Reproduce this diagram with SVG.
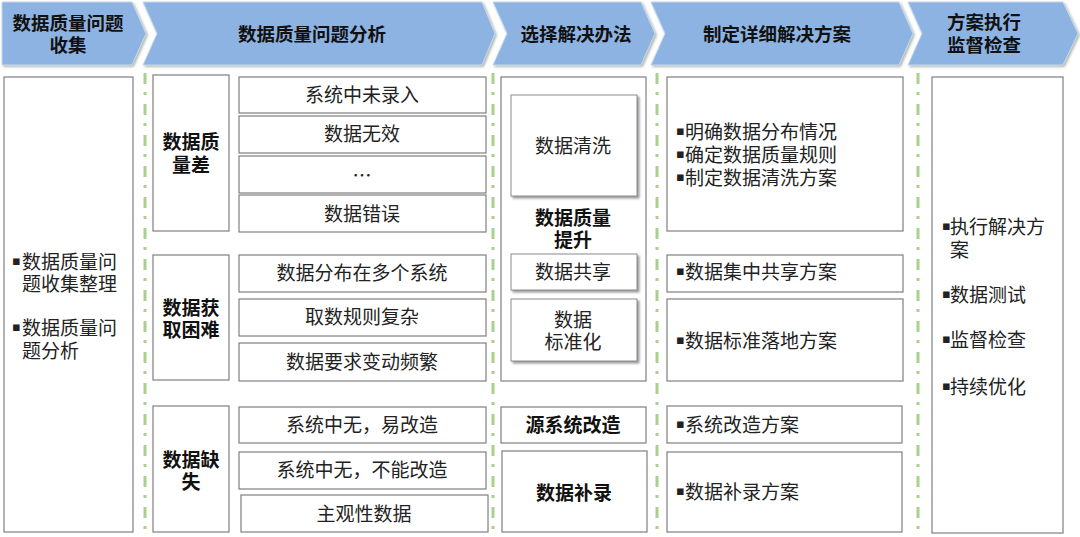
<svg xmlns="http://www.w3.org/2000/svg" width="1080" height="537" viewBox="0 0 1080 537">
<defs>
<filter id="hs" x="-5%" y="-10%" width="110%" height="125%">
<feDropShadow dx="1.5" dy="1.5" stdDeviation="1" flood-color="#7f8a7a" flood-opacity="0.6"/>
</filter>
<filter id="bs" x="-10%" y="-10%" width="125%" height="130%">
<feDropShadow dx="2" dy="2" stdDeviation="1.3" flood-color="#777" flood-opacity="0.75"/>
</filter>
<style>
.chev{fill:#8db3e2;stroke:#c5d8ef;stroke-width:1;filter:url(#hs)}
.box{fill:#fff;stroke:#7f7f7f;stroke-width:1.2}
.sbox{fill:#fff;stroke:#8c8c8c;stroke-width:1;filter:url(#bs)}
.div{stroke:#a9d18e;stroke-width:3;stroke-dasharray:11 8 3 9;fill:none}
text{font-family:"Noto Sans CJK SC","Microsoft YaHei",sans-serif;font-size:19px;fill:#222;dominant-baseline:central}
.h{font-weight:700;fill:#111;font-size:18.5px;text-anchor:middle}
.b{font-weight:700;fill:#111;text-anchor:middle}
.c{text-anchor:middle}
.bul{font-family:"DejaVu Sans",sans-serif;font-size:13px}
</style>
</defs>
<rect width="1080" height="537" fill="#fff"/>

<g id="header">
<g id="h1"><polygon class="chev" points="2,2 132,2 146,33.5 132,65 2,65"/><text class="h" x="68" y="22">数据质量问题</text><text class="h" x="68" y="44">收集</text></g>
<g id="h2"><polygon class="chev" points="143,2 482,2 495,33.5 482,65 143,65 157,33.5"/><text class="h" x="312" y="33">数据质量问题分析</text></g>
<g id="h3"><polygon class="chev" points="493,2 641,2 655,33.5 641,65 493,65 507,33.5"/><text class="h" x="576" y="33">选择解决办法</text></g>
<g id="h4"><polygon class="chev" points="651,2 899,2 913,33.5 899,65 651,65 665,33.5"/><text class="h" x="777" y="33">制定详细解决方案</text></g>
<g id="h5"><polygon class="chev" points="908,2 1063,2 1078,33.5 1063,65 908,65 922,33.5"/><text class="h" x="984" y="21">方案执行</text><text class="h" x="984" y="44">监督检查</text></g>
</g>

<g id="connectors">
<line class="div" x1="145" y1="73" x2="145" y2="537"/>
<line class="div" x1="493" y1="73" x2="493" y2="537"/>
<line class="div" x1="657" y1="73" x2="657" y2="537"/>
<line class="div" x1="918" y1="73" x2="918" y2="537"/>
</g>

<g id="collect">
<rect class="box" x="4" y="77" width="129" height="455"/>
<text x="12" y="260"><tspan class="bul">▪</tspan><tspan x="22">数据质量问</tspan></text>
<text x="22" y="282">题收集整理</text>
<text x="12" y="326"><tspan class="bul">▪</tspan><tspan x="22">数据质量问</tspan></text>
<text x="22" y="349">题分析</text>
</g>

<g id="cat-quality">
<rect class="box" x="153" y="75" width="76" height="156"/>
<text class="b" x="191" y="140">数据质</text>
<text class="b" x="191" y="163">量差</text>
</g>
<g id="cat-access">
<rect class="box" x="153" y="255" width="76" height="125"/>
<text class="b" x="191" y="306">数据获</text>
<text class="b" x="191" y="328">取困难</text>
</g>
<g id="cat-missing">
<rect class="box" x="153" y="406" width="76" height="126"/>
<text class="b" x="191" y="458">数据缺</text>
<text class="b" x="191" y="480">失</text>
</g>

<g id="item1"><rect class="box" x="239" y="77" width="247" height="36"/><text class="c" x="362" y="93">系统中未录入</text></g>
<g id="item2"><rect class="box" x="239" y="116" width="247" height="37"/><text class="c" x="362" y="132">数据无效</text></g>
<g id="item3"><rect class="box" x="239" y="156" width="247" height="37"/><text class="c" x="362" y="174">…</text></g>
<g id="item4"><rect class="box" x="239" y="195" width="247" height="37"/><text class="c" x="362" y="212">数据错误</text></g>
<g id="item5"><rect class="box" x="239" y="255" width="247" height="37"/><text class="c" x="362" y="271">数据分布在多个系统</text></g>
<g id="item6"><rect class="box" x="239" y="299" width="247" height="37"/><text class="c" x="362" y="315">取数规则复杂</text></g>
<g id="item7"><rect class="box" x="239" y="343" width="247" height="38"/><text class="c" x="362" y="360">数据要求变动频繁</text></g>
<g id="item8"><rect class="box" x="239" y="407" width="247" height="36"/><text class="c" x="362" y="423">系统中无，易改造</text></g>
<g id="item9"><rect class="box" x="239" y="452" width="247" height="37"/><text class="c" x="362" y="468">系统中无，不能改造</text></g>
<g id="item10"><rect class="box" x="241" y="495" width="247" height="37"/><text class="c" x="364" y="512">主观性数据</text></g>

<g id="sol-quality">
<rect class="box" x="501" y="77" width="145" height="304"/>
<text class="b" x="573" y="216">数据质量</text>
<text class="b" x="573" y="238">提升</text>
</g>
<g id="sol-clean"><rect class="sbox" x="511" y="95" width="126" height="101"/><text class="c" x="573" y="144">数据清洗</text></g>
<g id="sol-share"><rect class="sbox" x="511" y="254" width="126" height="36"/><text class="c" x="573" y="270">数据共享</text></g>
<g id="sol-std"><rect class="sbox" x="511" y="299" width="126" height="62"/><text class="c" x="573" y="318">数据</text><text class="c" x="573" y="340">标准化</text></g>
<g id="sol-src"><rect class="box" x="501" y="407" width="145" height="36"/><text class="b" x="573" y="423">源系统改造</text></g>
<g id="sol-fill"><rect class="box" x="502" y="451" width="145" height="81"/><text class="b" x="574" y="491">数据补录</text></g>

<g id="plan-clean">
<rect class="box" x="667" y="77" width="236" height="154"/>
<text x="676" y="130"><tspan class="bul">▪</tspan><tspan x="685">明确数据分布情况</tspan></text>
<text x="676" y="153"><tspan class="bul">▪</tspan><tspan x="685">确定数据质量规则</tspan></text>
<text x="676" y="176"><tspan class="bul">▪</tspan><tspan x="685">制定数据清洗方案</tspan></text>
</g>
<g id="plan-share"><rect class="box" x="667" y="255" width="236" height="37"/><text x="676" y="270"><tspan class="bul">▪</tspan><tspan x="685">数据集中共享方案</tspan></text></g>
<g id="plan-std"><rect class="box" x="667" y="299" width="236" height="82"/><text x="676" y="339"><tspan class="bul">▪</tspan><tspan x="685">数据标准落地方案</tspan></text></g>
<g id="plan-src"><rect class="box" x="667" y="406" width="235" height="37"/><text x="676" y="423"><tspan class="bul">▪</tspan><tspan x="685">系统改造方案</tspan></text></g>
<g id="plan-fill"><rect class="box" x="667" y="452" width="235" height="80"/><text x="676" y="490"><tspan class="bul">▪</tspan><tspan x="685">数据补录方案</tspan></text></g>

<g id="execute">
<rect class="box" x="932" y="77" width="131" height="456"/>
<text x="942" y="225"><tspan class="bul">▪</tspan><tspan x="950">执行解决方</tspan></text>
<text x="950" y="248">案</text>
<text x="942" y="293"><tspan class="bul">▪</tspan><tspan x="950">数据测试</tspan></text>
<text x="942" y="338"><tspan class="bul">▪</tspan><tspan x="950">监督检查</tspan></text>
<text x="942" y="385"><tspan class="bul">▪</tspan><tspan x="950">持续优化</tspan></text>
</g>
</svg>
